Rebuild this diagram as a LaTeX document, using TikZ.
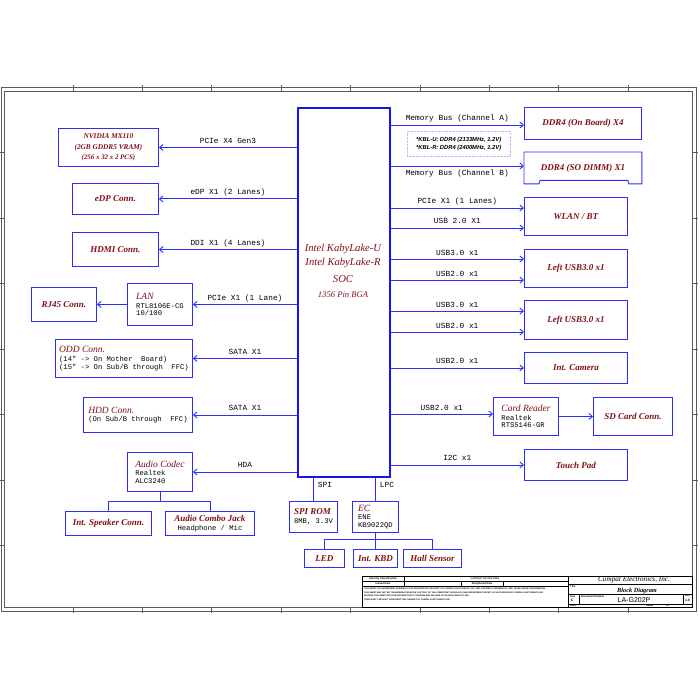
\documentclass[tikz,border=0pt]{standalone}
\usepackage{fontspec}
\setmainfont{Liberation Serif}
\setmonofont{Liberation Mono}
\newfontfamily\notesans{Liberation Sans}
\usetikzlibrary{arrows.meta,calc}
\definecolor{busblue}{RGB}{45,45,255}
\definecolor{socblue}{RGB}{20,20,235}
\definecolor{titlered}{RGB}{130,14,22}
\definecolor{noteblue}{RGB}{185,185,250}
\definecolor{framegray}{RGB}{90,90,90}
\newcommand{\boxtitle}{\fontsize{9}{10}\selectfont\rmfamily\bfseries\itshape\color{titlered}}
\newcommand{\subtitle}{\fontsize{9.5}{10}\selectfont\rmfamily\mdseries\itshape\color{titlered}}
\newcommand{\detailfont}{\fontsize{7.2}{7.6}\selectfont\ttfamily\mdseries\upshape\color{black}}
\newcommand{\busfont}{\fontsize{7.8}{9}\selectfont\ttfamily}
\tikzset{
  blk/.style={
    draw=busblue,
    line width=0.9pt,
    anchor=north west,
    inner sep=0pt,
    align=center,
    font=\boxtitle
  },
  blk-detail/.style={
    blk,
    align=left,
    font=\detailfont
  },
  soc-box/.style={blk, draw=socblue, line width=1.6pt},
  soc-text/.style={
    anchor=north,
    align=center,
    inner sep=0pt,
    text=titlered,
    font=\fontsize{10.6}{14}\selectfont\itshape
  },
  link/.style={draw=busblue, line width=0.9pt},
  bus/.style={link, -{Straight Barb[length=3.5pt,width=6pt]}},
  bus-label/.style={font=\busfont, inner sep=0pt, anchor=base, yshift=4pt},
  bus-label-below/.style={bus-label, yshift=-13.5pt},
  side-label/.style={font=\busfont, inner sep=0pt, anchor=west, xshift=4pt, yshift=4pt},
  note-box/.style={
    draw=noteblue,
    densely dotted,
    anchor=north west,
    inner sep=0pt,
    align=left,
    font=\notesans\fontsize{5.8}{8}\selectfont\bfseries\itshape
  },
  frame-line/.style={draw=framegray, line width=0.7pt},
  tb-line/.style={draw=black, line width=0.4pt},
  tb-tiny/.style={inner sep=0pt, font=\notesans\fontsize{2.6}{3}\selectfont\bfseries}
}
\newcommand{\sheetframe}{%
  \useasboundingbox (0,0) rectangle (700,700);
  \draw[frame-line] (1,87) rectangle (696,611);
  \draw[frame-line] (4,91) rectangle (692,607);
  \foreach \k in {1,...,9} {
    \draw[frame-line] (3.5+69.4*\k,85) -- (3.5+69.4*\k,91);
    \draw[frame-line] (3.5+69.4*\k,607) -- (3.5+69.4*\k,613);
  }
  \foreach \k in {1,...,7} {
    \draw[frame-line] (-1,87+65.5*\k) -- (4,87+65.5*\k);
    \draw[frame-line] (692,87+65.5*\k) -- (698,87+65.5*\k);
  }
}

\begin{document}
\begin{tikzpicture}[x=1pt,y=-1pt]
  \sheetframe
  \node[soc-box, minimum width=92, minimum height=369] (soc) at (297,107) {};
  \node[soc-text] (soc-name) at (343,244) {Intel KabyLake-U\\Intel KabyLake-R\\[3pt]SOC\\[1pt]{\fontsize{8.6}{10}\selectfont 1356 Pin BGA}};

  % left side
  \node[blk, minimum width=100, minimum height=38,
    font=\fontsize{7.3}{10.2}\selectfont\bfseries\itshape\color{titlered}] (gpu) at (58,128)
    {NVIDIA MX110\\(2GB GDDR5 VRAM)\\{\fontsize{6.9}{10.2}\selectfont(256 x 32 x 2 PCS)}};
  \node[blk, minimum width=86, minimum height=31] (edp) at (72,183) {eDP Conn.};
  \node[blk, minimum width=86, minimum height=34] (hdmi) at (72,232) {HDMI Conn.};
  \node[blk, minimum width=65, minimum height=34] (rj45) at (31,287) {RJ45 Conn.};
  \node[blk-detail, minimum width=65, minimum height=42] (lan) at (127,283)
    {{\subtitle LAN}\\[1pt]RTL8106E-CG\\10/100};
  \node[blk-detail, minimum width=137, minimum height=38] (odd) at (55,339)
    {{\subtitle ODD Conn.}\\[2pt](14" -> On Mother\ \ Board)\\(15" -> On Sub/B through\ \ FFC)};
  \node[blk-detail, minimum width=109, minimum height=35] (hdd) at (83,397)
    {{\subtitle HDD Conn.}\\[1pt](On Sub/B through\ \ FFC)};
  \node[blk-detail, minimum width=65, minimum height=39] (codec) at (127,452)
    {{\subtitle Audio Codec}\\[1pt]Realtek\\ALC3240};
  \node[blk, minimum width=86, minimum height=24] (spk) at (65,511) {Int. Speaker Conn.};
  \node[blk, minimum width=89, minimum height=24] (jack) at (165,511)
    {Audio Combo Jack\\[-1.5pt]{\detailfont Headphone / Mic}};

  \draw[bus] (soc.west |- gpu.east) -- node[bus-label] {PCIe X4 Gen3} (gpu.east);
  \draw[bus] (soc.west |- edp.east) -- node[bus-label] {eDP X1 (2 Lanes)} (edp.east);
  \draw[bus] (soc.west |- hdmi.east) -- node[bus-label] {DDI X1 (4 Lanes)} (hdmi.east);
  \draw[bus] (soc.west |- lan.east) -- node[bus-label] {PCIe X1 (1 Lane)} (lan.east);
  \draw[bus] (lan.west) -- (rj45.east);
  \draw[bus] (soc.west |- odd.east) -- node[bus-label] {SATA X1} (odd.east);
  \draw[bus] (soc.west |- hdd.east) -- node[bus-label] {SATA X1} (hdd.east);
  \draw[bus] (soc.west |- codec.east) -- node[bus-label] {HDA} (codec.east);
  \draw[link] (codec.south) -- ++(0,10) coordinate (codec-split);
  \draw[link] (spk.north) |- (codec-split) -| (jack.north);

  % bottom side
  \node[blk-detail, minimum width=48, minimum height=31] (rom) at (289,501)
    {{\boxtitle SPI ROM}\\[1pt]8MB, 3.3V};
  \node[blk-detail, minimum width=46, minimum height=31] (ec) at (352,501)
    {{\subtitle EC}\\[1pt]ENE\\KB9022QD};
  \node[blk, minimum width=40, minimum height=18] (led) at (304,549) {LED};
  \node[blk, minimum width=44, minimum height=18] (kbd) at (353,549) {Int. KBD};
  \node[blk, minimum width=58, minimum height=18] (hall) at (403,549) {Hall Sensor};
  \draw[link] (soc.south -| rom.north) -- node[side-label] {SPI} (rom.north);
  \draw[link] (soc.south -| ec.north) -- node[side-label] {LPC} (ec.north);
  \draw[link] (ec.south) -- ++(0,7) coordinate (ec-split);
  \draw[link] (led.north) |- (ec-split) -| (hall.north);
  \draw[link] (ec-split) -- (kbd.north);

  % right side
  \node[blk, minimum width=117, minimum height=32] (ddra) at (524,107) {DDR4 (On Board) X4};
  \node[blk, draw=none, minimum width=117, minimum height=31] (ddrb) at (524,152) {DDR4 (SO DIMM) X1};
  \draw[link] (ddrb.south west) -- (ddrb.north west) -- (ddrb.north east) -- (ddrb.south east)
    -- ++(-13,0) -- ++(-1,-3.5) -- ($(ddrb.south west)+(16,-3.5)$) -- ++(-1,3.5) -- cycle;
  \node[note-box, minimum width=103, minimum height=25] (kbl-note) at (407,131)
    {*KBL-U: DDR4 (2133MHz, 1.2V)\\*KBL-R: DDR4 (2400MHz, 1.2V)};
  \node[blk, minimum width=103, minimum height=38] (wlan) at (524,197) {WLAN / BT};
  \node[blk, minimum width=103, minimum height=38] (usba) at (524,249) {Left USB3.0 x1};
  \node[blk, minimum width=103, minimum height=39] (usbb) at (524,300) {Left USB3.0 x1};
  \node[blk, minimum width=103, minimum height=31] (cam) at (524,352) {Int. Camera};
  \node[blk-detail, minimum width=65, minimum height=38] (reader) at (493,397)
    {{\subtitle Card Reader}\\[1pt]Realtek\\RTS5146-GR};
  \node[blk, minimum width=79, minimum height=38] (sd) at (593,397) {SD Card Conn.};
  \node[blk, minimum width=103, minimum height=31] (tp) at (524,449) {Touch Pad};

  \coordinate (ddra-in) at (524,125);
  \coordinate (ddrb-in) at (524,166);
  \coordinate (wlan-pcie) at (524,208);
  \coordinate (wlan-usb) at (524,228);
  \coordinate (usba-3) at (524,259);
  \coordinate (usba-2) at (524,280);
  \coordinate (usbb-3) at (524,311);
  \coordinate (usbb-2) at (524,332);
  \coordinate (reader-in) at (493,414);

  \draw[bus] (soc.east |- ddra-in) -- node[bus-label] {Memory Bus (Channel A)} (ddra-in);
  \draw[bus] (soc.east |- ddrb-in) -- node[bus-label-below] {Memory Bus (Channel B)} (ddrb-in);
  \draw[bus] (soc.east |- wlan-pcie) -- node[bus-label] {PCIe X1 (1 Lanes)} (wlan-pcie);
  \draw[bus] (soc.east |- wlan-usb) -- node[bus-label] {USB 2.0 X1} (wlan-usb);
  \draw[bus] (soc.east |- usba-3) -- node[bus-label] {USB3.0 x1} (usba-3);
  \draw[bus] (soc.east |- usba-2) -- node[bus-label] {USB2.0 x1} (usba-2);
  \draw[bus] (soc.east |- usbb-3) -- node[bus-label] {USB3.0 x1} (usbb-3);
  \draw[bus] (soc.east |- usbb-2) -- node[bus-label] {USB2.0 x1} (usbb-2);
  \draw[bus] (soc.east |- cam.west) -- node[bus-label] {USB2.0 x1} (cam.west);
  \draw[bus] (soc.east |- reader-in) -- node[bus-label] {USB2.0 x1} (reader-in);
  \draw[bus] (reader.east) -- (sd.west);
  \draw[bus] (soc.east |- tp.west) -- node[bus-label] {I2C x1} (tp.west);

  % title block
  \draw[tb-line, line width=0.7pt] (362,576) rectangle (692,607);
  \draw[tb-line] (568,576) -- (568,607);
  \draw[tb-line] (362,581) -- (568,581);
  \draw[tb-line] (362,586) -- (568,586);
  \draw[tb-line] (404,576) -- (404,586);
  \draw[tb-line] (461,581) -- (461,586);
  \draw[tb-line] (503,581) -- (503,586);
  \draw[tb-line] (568,584) -- (692,584);
  \draw[tb-line] (568,594) -- (692,594);
  \draw[tb-line] (568,604) -- (692,604);
  \draw[tb-line] (579,594) -- (579,604);
  \draw[tb-line] (683,594) -- (683,604);
  \node[tb-tiny] (tb-class) at (383,578.6) {Security Classification};
  \node[tb-tiny, font=\notesans\fontsize{3.2}{4}\selectfont] (tb-secret) at (485,578.6) {Compal Secret Data};
  \node[tb-tiny] (tb-issued) at (383,583.6) {Issued Date};
  \node[tb-tiny] (tb-deciph) at (482,583.6) {Deciphered Date};
  \node[tb-tiny, anchor=north west, align=left, font=\notesans\fontsize{2.1}{3.6}\selectfont\bfseries] (tb-legal) at (364,588)
    {THIS SHEET OF ENGINEERING DRAWING IS THE PROPRIETARY PROPERTY OF COMPAL ELECTRONICS, INC. AND CONTAINS CONFIDENTIAL AND TRADE SECRET INFORMATION.\\
     THIS SHEET MAY NOT BE TRANSFERED FROM THE CUSTODY OF THE COMPETENT DIVISION OF R\&D DEPARTMENT EXCEPT AS AUTHORIZED BY COMPAL ELECTRONICS, INC.\\
     NEITHER THIS SHEET NOR THE INFORMATION IT CONTAINS MAY BE USED BY OR DISCLOSED TO ANY\\
     THIRD PARTY WITHOUT PRIOR WRITTEN CONSENT OF COMPAL ELECTRONICS, INC.};
  \node[inner sep=0pt, font=\fontsize{7.2}{8}\selectfont\itshape] (tb-company) at (634,579.6) {Compal Electronics, Inc.};
  \node[tb-tiny, anchor=north west] (tb-title) at (570,585) {Title};
  \node[inner sep=0pt, font=\fontsize{6.3}{7}\selectfont\bfseries\itshape] (tb-name) at (637,590.5) {Block Diagram};
  \node[tb-tiny, anchor=north west] (tb-size) at (570,595) {Size};
  \node[tb-tiny, anchor=north west] (tb-docnum) at (581,595) {Document Number};
  \node[tb-tiny, anchor=north west] (tb-rev) at (685,595) {Rev};
  \node[tb-tiny, font=\notesans\fontsize{3.4}{4}\selectfont\bfseries] (tb-c) at (572,600.5) {C};
  \node[inner sep=0pt, font=\notesans\fontsize{7}{8}\selectfont] (tb-doc) at (634,600.5) {LA-G202P};
  \node[tb-tiny, font=\notesans\fontsize{3.4}{4}\selectfont\bfseries] (tb-revno) at (687.5,600.5) {1.0};
  \node[tb-tiny, anchor=west] (tb-date) at (570,605.6) {Date:};
  \node[tb-tiny, anchor=west] (tb-sheet) at (646,605.6) {Sheet};
  \node[tb-tiny, anchor=west] (tb-of) at (666,605.6) {of};
\end{tikzpicture}
\end{document}
